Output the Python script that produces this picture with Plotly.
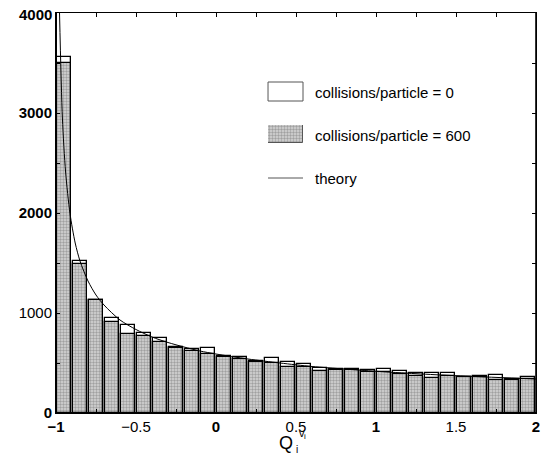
import plotly.graph_objects as go

# ---- data ----
bin_left = [-1.0 + 0.1 * k for k in range(30)]
bin_centers = [round(b + 0.05, 3) for b in bin_left]

counts_0 = [3560, 1525, 1135, 955, 878, 798, 755, 661, 645, 648,
            575, 561, 525, 551, 515, 488, 455, 441, 441, 428,
            438, 418, 398, 398, 398, 365, 372, 378, 338, 365]
counts_600 = [3505, 1486, 1130, 911, 795, 768, 708, 655, 618, 595,
              565, 541, 511, 505, 458, 461, 421, 428, 428, 413,
              408, 388, 375, 350, 368, 365, 362, 330, 335, 341]

theory_x = [-0.978, -0.96, -0.94, -0.9125, -0.88, -0.85, -0.8, -0.75, -0.7, -0.6,
            -0.5, -0.4, -0.3, -0.2, -0.1, 0.0, 0.2, 0.4, 0.6, 0.8,
            1.0, 1.25, 1.5, 1.75, 2.0]
theory_y = [4000, 2950, 2410, 1995, 1700, 1520, 1320, 1180, 1080, 930,
            835, 760, 705, 660, 620, 590, 540, 500, 465, 440,
            417, 393, 373, 356, 340]

x_ticks = [-1, -0.75, -0.5, -0.25, 0, 0.25, 0.5, 0.75, 1, 1.25, 1.5, 1.75, 2]
x_labels = ["<b>−1</b>", "", "−0.5", "", "<b>0</b>", "", "0.5", "", "<b>1</b>", "", "1.5", "", "<b>2</b>"]
y_ticks = [0, 500, 1000, 1500, 2000, 2500, 3000, 3500, 4000]
y_labels = ["<b>0</b>", "", "1000", "", "<b>2000</b>", "", "<b>3000</b>", "", ""]
y_top_label = "<b>4000</b>"

legend_labels = ["collisions/particle = 0", "collisions/particle = 600", "theory"]

pattern = dict(shape=".", fgcolor="#6a6a6a", bgcolor="#d6d6d6", size=3, solidity=0.5)

fig = go.Figure()
fig.add_trace(go.Bar(x=bin_centers, y=counts_0, width=0.086,
                     marker=dict(color="white", line=dict(color="black", width=1.3)),
                     showlegend=False))
fig.add_trace(go.Bar(x=bin_centers, y=counts_600, width=0.086,
                     marker=dict(color="#bcbcbc", pattern=pattern,
                                 line=dict(color="black", width=1.3)),
                     showlegend=False))
fig.add_trace(go.Scatter(x=theory_x, y=theory_y, mode="lines",
                         line=dict(color="black", width=1, shape="spline", smoothing=0.8),
                         showlegend=False))

# legend swatch for the patterned series (separate tiny axis)
fig.add_trace(go.Bar(x=[0], y=[1], width=1, xaxis="x3", yaxis="y3",
                     marker=dict(color="#bcbcbc", pattern=pattern,
                                 line=dict(color="#555", width=1)),
                     showlegend=False, hoverinfo="skip"))

font_main = "Liberation Sans, Arial, sans-serif"

# the page adds an 8 px body margin, so margins are shifted to compensate
fig.update_layout(
    width=549, height=458,
    margin=dict(l=48, r=21, t=5, b=53, autoexpand=False),
    paper_bgcolor="white", plot_bgcolor="white",
    barmode="overlay", bargap=0,
    showlegend=False,
    font=dict(family=font_main, size=15, color="black"),
    xaxis=dict(range=[-1, 2], tickvals=x_ticks, ticktext=x_labels,
               ticks="inside", ticklen=4, tickwidth=1, tickcolor="black",
               showline=True, linecolor="black", linewidth=1, mirror="ticks",
               showgrid=False, zeroline=False, automargin=False,
               tickfont=dict(family=font_main, size=15, color="black")),
    yaxis=dict(range=[0, 4000], tickvals=y_ticks, ticktext=y_labels,
               ticks="inside", ticklen=4, tickwidth=1, tickcolor="black",
               showline=True, linecolor="black", linewidth=1, mirror="ticks",
               showgrid=False, zeroline=False, automargin=False,
               tickfont=dict(family=font_main, size=15, color="black")),
    xaxis3=dict(domain=[0.4417, 0.5146], range=[-0.5, 0.5], visible=False,
                fixedrange=True, automargin=False),
    yaxis3=dict(domain=[0.675, 0.72], range=[0, 1], visible=False,
                fixedrange=True, automargin=False),
)

# top y tick label (plotly hides it at the figure edge)
fig.add_annotation(text=y_top_label, xref="paper", yref="y", x=0, y=4000,
                   xanchor="right", yanchor="middle", xshift=-3, yshift=-1,
                   borderpad=0, showarrow=False,
                   font=dict(family=font_main, size=15, color="black"))

# thicker left / bottom / right axis lines
fig.add_shape(type="line", xref="paper", yref="paper", x0=0, x1=0, y0=0, y1=1,
              line=dict(color="black", width=2), layer="above")
fig.add_shape(type="line", xref="paper", yref="paper", x0=0, x1=1, y0=0, y1=0,
              line=dict(color="black", width=2), layer="above")
fig.add_shape(type="line", xref="paper", yref="paper", x0=1, x1=1, y0=0, y1=1,
              line=dict(color="black", width=1.6), layer="above")

# legend: white box, line
fig.add_shape(type="rect", xref="paper", yref="paper", x0=0.4417, x1=0.5146, y0=0.78, y1=0.8275,
              fillcolor="white", line=dict(color="#555", width=1))
fig.add_shape(type="line", xref="paper", yref="paper", x0=0.4417, x1=0.5146, y0=0.5875, y1=0.5875,
              line=dict(color="#555", width=1))
for lab, yy in zip(legend_labels, [0.8025, 0.695, 0.5875]):
    fig.add_annotation(text=lab, xref="paper", yref="paper", x=0.5354, y=yy,
                       xanchor="left", yanchor="middle", showarrow=False,
                       font=dict(family=font_main, size=15, color="black"))

# axis title Q_i^{v_i}
fig.add_annotation(text="Q", xref="paper", yref="paper", x=0.48, y=-0.075,
                   xanchor="center", yanchor="middle", showarrow=False,
                   font=dict(family=font_main, size=18, color="black"))
fig.add_annotation(text="i", xref="paper", yref="paper", x=0.4965, y=-0.09,
                   xanchor="left", yanchor="middle", showarrow=False,
                   font=dict(family=font_main, size=10, color="black"))
fig.add_annotation(text="v", xref="paper", yref="paper", x=0.5015, y=-0.05,
                   xanchor="left", yanchor="middle", showarrow=False,
                   font=dict(family=font_main, size=11, color="black"))
fig.add_annotation(text="i", xref="paper", yref="paper", x=0.513, y=-0.059,
                   xanchor="left", yanchor="middle", showarrow=False,
                   font=dict(family=font_main, size=8, color="black"))

fig.write_html("out.html")
